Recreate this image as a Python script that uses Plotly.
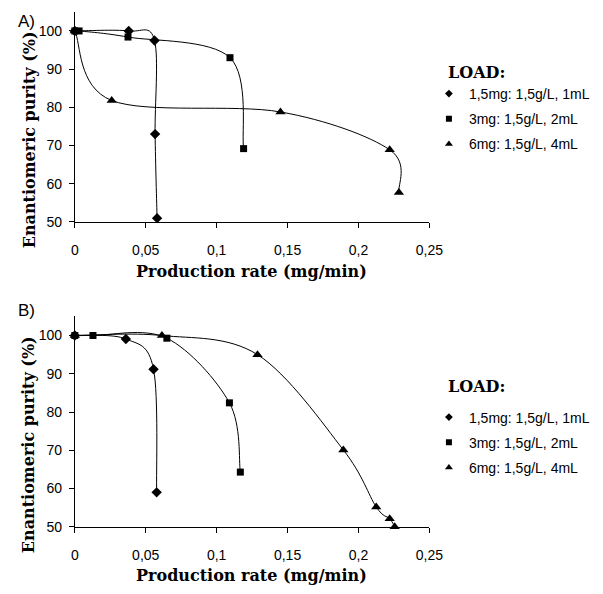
import plotly.graph_objects as go

# ---- data ----
tick_vals_x = [0, 0.05, 0.1, 0.15, 0.2, 0.25]
tick_text_x = ["0", "0,05", "0,1", "0,15", "0,2", "0,25"]
tick_vals_y = [50, 60, 70, 80, 90, 100]

series_names = ["1,5mg: 1,5g/L, 1mL", "3mg: 1,5g/L, 2mL", "6mg: 1,5g/L, 4mL"]

A_diamond_x = [0, 0.038, 0.0562, 0.0566, 0.058]
A_diamond_y = [100, 100, 97.5, 73, 51]
A_square_x = [0, 0.003, 0.0375, 0.1094, 0.119]
A_square_y = [100, 100, 98.4, 93, 69.2]
A_tri_x = [0, 0.026, 0.145, 0.222, 0.2285]
A_tri_y = [100, 81.8, 78.8, 68.9, 57.7]

B_diamond_x = [0, 0.036, 0.0555, 0.0577]
B_diamond_y = [100, 99.1, 91.2, 59.0]
B_square_x = [0, 0.0128, 0.0649, 0.109, 0.1167]
B_square_y = [100, 100, 99.3, 82.4, 64.3]
B_tri_x = [0, 0.0614, 0.1288, 0.1893, 0.2125, 0.222, 0.2255]
B_tri_y = [100, 100, 95.0, 70.1, 55.2, 52.1, 50.0]

W, H = 603, 594
def px(x):
    return x / W
def py(y):
    return 1 - y / H

symbols = ["diamond", "square", "triangle-up"]
msizes = [8, 7, 9]
leg_sizes = [6, 6, 7]


def smooth_path(xs, ys):
    """Excel-style smoothed line: cubic Bezier through the data points,
    control points from neighbouring data points (Catmull-Rom, factor 1/6)."""
    n = len(xs)
    f = lambda v: f"{v:.6f}"
    parts = [f"M {f(xs[0])},{f(ys[0])}"]
    for i in range(n - 1):
        i0 = max(i - 1, 0)
        i3 = min(i + 2, n - 1)
        c1x = xs[i] + (xs[i + 1] - xs[i0]) / 6
        c1y = ys[i] + (ys[i + 1] - ys[i0]) / 6
        c2x = xs[i + 1] - (xs[i3] - xs[i]) / 6
        c2y = ys[i + 1] - (ys[i3] - ys[i]) / 6
        parts.append(f"C {f(c1x)},{f(c1y)} {f(c2x)},{f(c2y)} {f(xs[i + 1])},{f(ys[i + 1])}")
    return " ".join(parts)


fig = go.Figure()
shapes = []

panels = [
    ("x", "y", "legend", [(A_diamond_x, A_diamond_y), (A_square_x, A_square_y), (A_tri_x, A_tri_y)]),
    ("x2", "y2", "legend2", [(B_diamond_x, B_diamond_y), (B_square_x, B_square_y), (B_tri_x, B_tri_y)]),
]

for xa, ya, leg, data in panels:
    for i, (xs, ys) in enumerate(data):
        shapes.append(dict(type="path", path=smooth_path(xs, ys), xref=xa, yref=ya,
                           line=dict(color="black", width=1), layer="below"))
        fig.add_trace(go.Scatter(
            x=xs, y=ys, xaxis=xa, yaxis=ya, mode="markers",
            marker=dict(symbol=symbols[i], size=msizes[i], color="black"),
            showlegend=False, cliponaxis=False, name=series_names[i],
        ))
    for i in range(3):
        fig.add_trace(go.Scatter(
            x=[None], y=[None], xaxis=xa, yaxis=ya, mode="markers",
            marker=dict(symbol=symbols[i], size=leg_sizes[i], color="black"),
            name=series_names[i], legend=leg, legendgroup=f"{leg}_{i}", showlegend=True,
        ))

xdom = [px(73), px(438.5)]
axis_common = dict(
    showline=True, linecolor="black", linewidth=1, showgrid=False, zeroline=False,
    ticks="outside", ticklen=5, tickwidth=1, tickcolor="black",
    tickfont=dict(family="Liberation Sans, Arial", size=14, color="black"),
)
leg_font = dict(family="Liberation Sans, Arial", size=14, color="black")

fig.update_layout(
    width=W, height=H, autosize=False,
    margin=dict(l=0, r=0, t=0, b=0),
    paper_bgcolor="white", plot_bgcolor="white",
    xaxis=dict(domain=xdom, range=[0, 0.25], tickvals=tick_vals_x, ticktext=tick_text_x,
               anchor="y", ticklabelstandoff=10, **axis_common),
    yaxis=dict(domain=[py(225), py(12)], range=[50, 105], tickvals=tick_vals_y,
               anchor="x", ticklabelstandoff=4, **axis_common),
    xaxis2=dict(domain=xdom, range=[0, 0.25], tickvals=tick_vals_x, ticktext=tick_text_x,
                anchor="y2", ticklabelstandoff=10, **axis_common),
    yaxis2=dict(domain=[py(534), py(320.7)], range=[50, 105], tickvals=tick_vals_y,
                anchor="x2", ticklabelstandoff=4, **axis_common),
    legend=dict(x=px(438), y=py(79), xanchor="left", yanchor="top", font=leg_font,
                bgcolor="rgba(0,0,0,0)", tracegroupgap=4),
    legend2=dict(x=px(438), y=py(407), xanchor="left", yanchor="top", font=leg_font,
                 bgcolor="rgba(0,0,0,0)", tracegroupgap=4),
    shapes=shapes,
)

title_font = dict(family="DejaVu Serif", size=16, color="black")
annots = []
for (cy_x, cy_y, load_y, lab, lab_y) in [(275, 142, 73, "A)", 22), (583, 451, 392, "B)", 315)]:
    annots.append(dict(text="<b>Production rate (mg/min)</b>", x=px(255.5), y=py(cy_x),
                       xref="paper", yref="paper", showarrow=False, font=title_font,
                       xanchor="center", yanchor="middle"))
    annots.append(dict(text="<b>Enantiomeric purity (%)</b>", x=px(26), y=py(cy_y),
                       xref="paper", yref="paper", showarrow=False, font=title_font,
                       textangle=-90, xanchor="center", yanchor="middle"))
    annots.append(dict(text="<b>LOAD:</b>", x=px(456), y=py(load_y),
                       xref="paper", yref="paper", showarrow=False, font=title_font,
                       xanchor="left", yanchor="middle"))
    annots.append(dict(text=lab, x=px(12), y=py(lab_y),
                       xref="paper", yref="paper", showarrow=False,
                       font=dict(family="Liberation Sans, Arial", size=17, color="black"),
                       xanchor="left", yanchor="middle"))
fig.update_layout(annotations=annots)

fig.write_html("out.html")
